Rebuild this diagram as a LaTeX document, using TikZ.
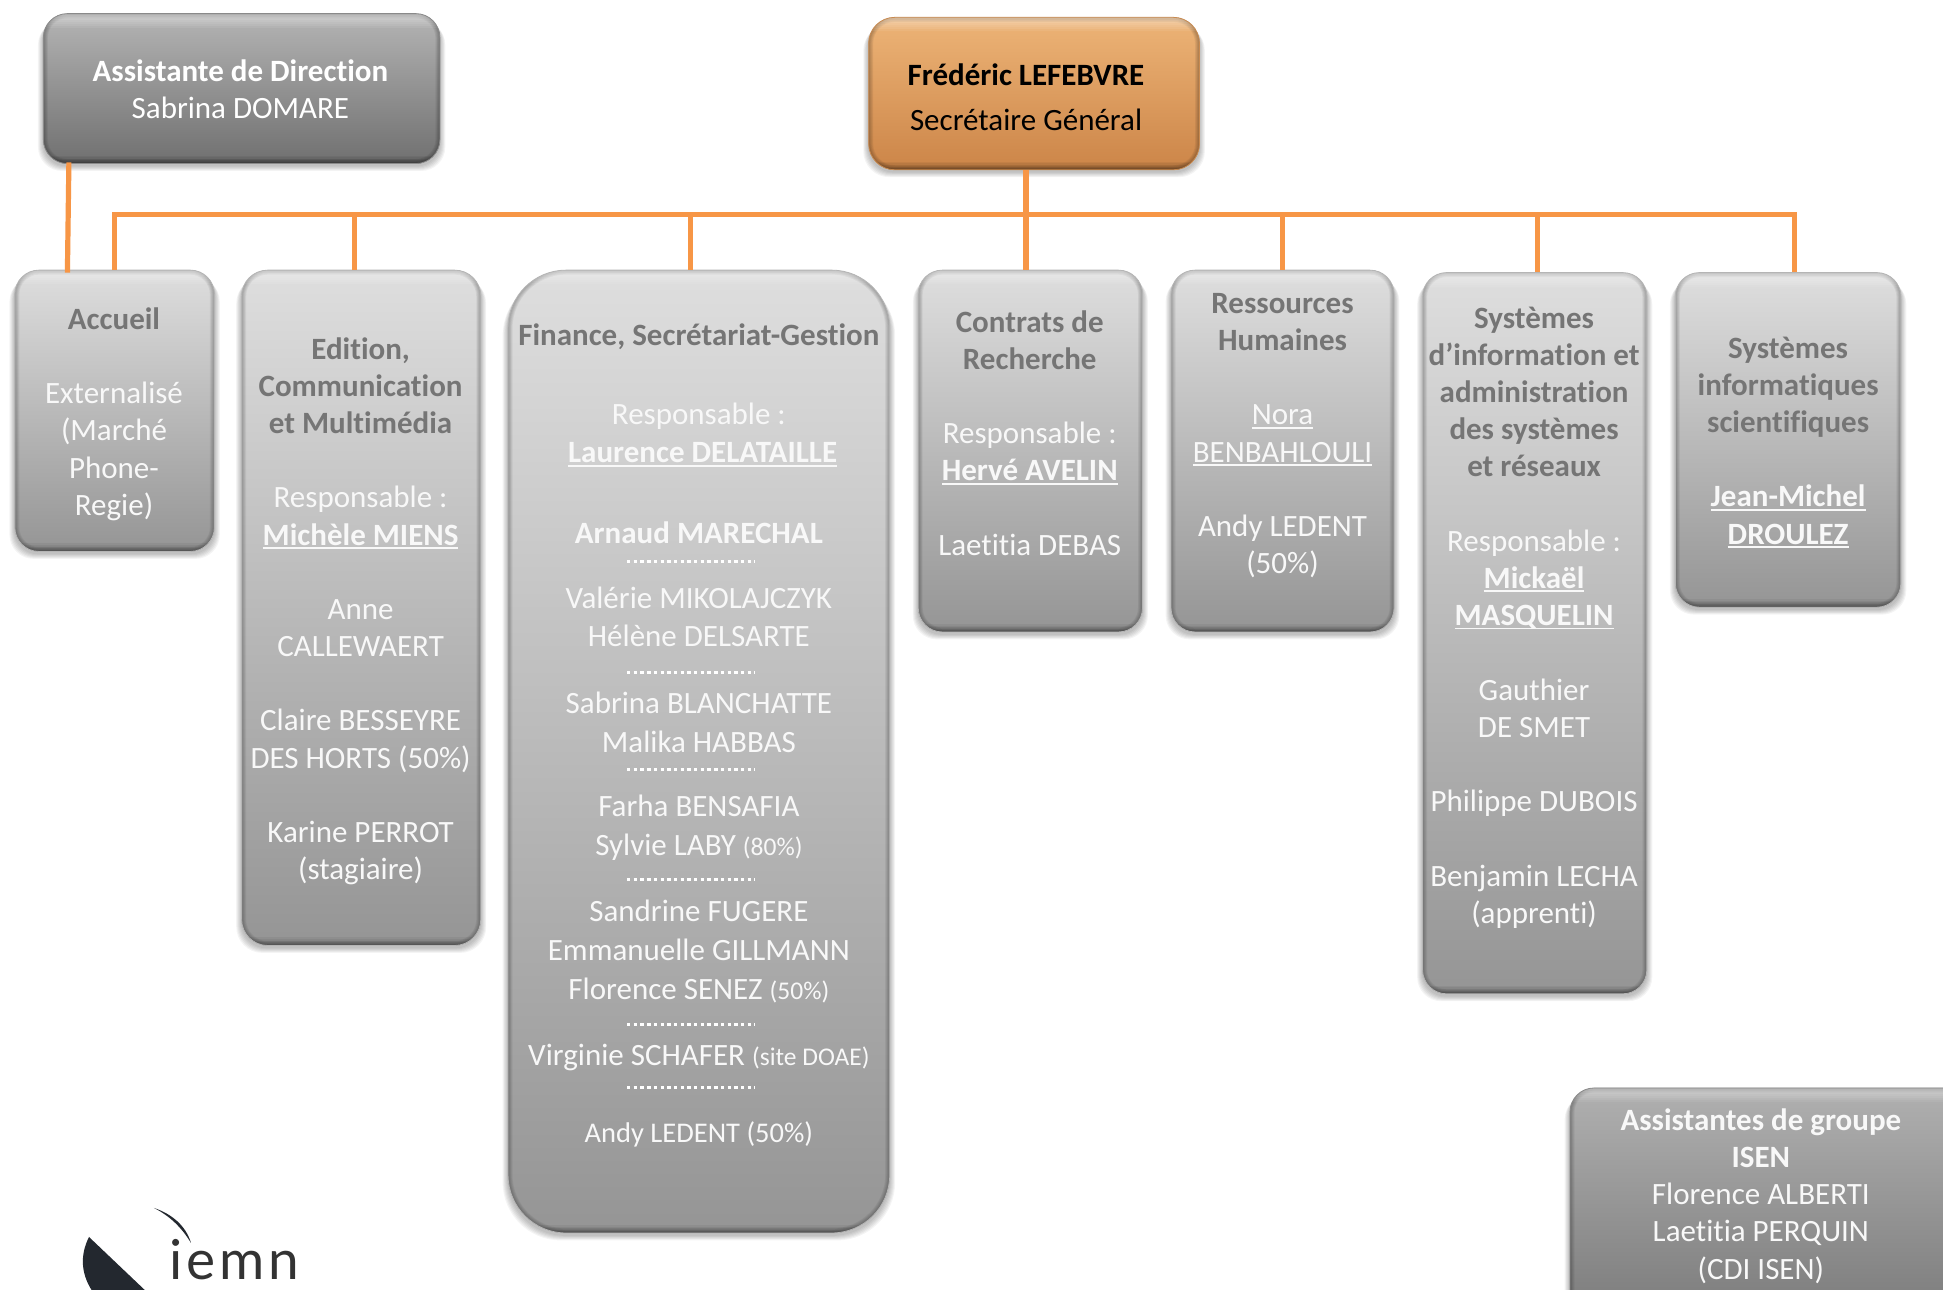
\documentclass[tikz,border=0pt]{standalone}
\usepackage{fontspec}
\setmainfont{Carlito}[Ligatures=NoCommon]
\newfontfamily\logofont[LetterSpace=7]{Lato}
\usetikzlibrary{fit}
\definecolor{conn}{HTML}{F79646}
\definecolor{tg}{HTML}{757575}
\definecolor{nameg}{HTML}{F8F8F8}
\definecolor{logod}{HTML}{23282F}
\definecolor{asstT}{HTML}{B4B4B4}
\definecolor{asstB}{HTML}{707070}
\definecolor{asstE}{HTML}{8A8A8A}
\definecolor{sgT}{HTML}{EDB477}
\definecolor{sgB}{HTML}{CC8548}
\definecolor{sgE}{HTML}{C88A50}
\definecolor{colT}{HTML}{DEDEDE}
\definecolor{colB}{HTML}{959595}
\definecolor{colE}{HTML}{B5B5B5}
\definecolor{isenT}{HTML}{B0B0B0}
\definecolor{isenB}{HTML}{787878}
\newcommand\Tt[1]{{\color{tg}\bfseries #1}}
\newcommand\Bb[1]{{\bfseries #1}}
\newcommand\ulname[1]{\setbox0\hbox{#1}\rlap{\rule[-3.8pt]{\wd0}{1.8pt}}\box0}
\newcommand\smalltxt[1]{{\fontsize{25.5}{37.2}\selectfont #1}}
% name, x1,y1,x2,y2, radius, top colour, bottom colour, edge colour
\newcommand\gbox[9]{%
  \foreach \i in {1,...,6}{
    \fill[black,opacity=.045,rounded corners=#6pt]
      ([xshift=-\i*0.9pt,yshift=-\i*0.9pt-2pt]#2,#3) rectangle ([xshift=\i*0.9pt,yshift=-\i*0.9pt-2pt]#4,#5);
  }
  \path[rounded corners=#6pt,top color=#7,bottom color=#8] (#2,#3) rectangle (#4,#5);
  \begin{scope}
    \clip[rounded corners=#6pt] (#2,#3) rectangle (#4,#5);
    \foreach \i in {1,...,5}{
      \draw[black,opacity=.055,line width=2*\i*0.9 pt,rounded corners=#6pt] (#2,#3) rectangle (#4,#5);
    }
    \foreach \i in {1,...,7}{
      \fill[white,opacity=.07] (#2,#3) rectangle ([yshift=-\i*2pt]#4,#3);
    }
    \foreach \i in {1,...,5}{
      \fill[black,opacity=.05] ([yshift=\i*1.6pt]#2,#5) rectangle (#4,#5);
    }
  \end{scope}
  \draw[#9,line width=.8pt,rounded corners=#6pt] (#2,#3) rectangle (#4,#5);
  \coordinate (#1a) at (#2,#3);
  \coordinate (#1b) at (#4,#5);
  \node[fit=(#1a)(#1b),inner sep=0pt] (#1) {};
}
\tikzset{
  txt/.style={anchor=north,align=center,inner sep=0pt,text=nameg,
    font=\fontsize{31}{37.2}\selectfont,execute at begin node=\strut},
  fline/.style={anchor=center,inner sep=0pt,text=nameg,font=\fontsize{31}{37.2}\selectfont},
  wire/.style={draw=conn,line width=5.2pt},
  dots/.style={draw=white,line width=3pt,dash pattern=on 3.4pt off 3.3pt},
}
\begin{document}
\begin{tikzpicture}[x=1.2392pt,y=-1.2392pt]
\useasboundingbox (0,0) rectangle (1568,1041);
\fill[white] (0,0) rectangle (1568,1041);
\clip (0,0) rectangle (1568,1041);

\gbox{asst}{35}{11}{355}{132}{24}{asstT}{asstB}{asstE}
\gbox{sg}{701}{14}{968}{137}{26}{sgT}{sgB}{sgE}
\gbox{acc}{12}{218}{173}{445}{24}{colT}{colB}{colE}
\gbox{edi}{195}{218}{388}{763}{26}{colT}{colB}{colE}
\gbox{fin}{410}{218}{718}{995}{58}{colT}{colB}{colE}
\gbox{con}{741}{218}{922}{510}{24}{colT}{colB}{colE}
\gbox{rh}{945}{218}{1125}{510}{24}{colT}{colB}{colE}
\gbox{si}{1148}{220}{1329}{802}{24}{colT}{colB}{colE}
\gbox{sis}{1352}{220}{1534}{490}{24}{colT}{colB}{colE}
\gbox{isen}{1267}{878}{1640}{1075}{24}{isenT}{isenB}{asstE}

% connectors
\coordinate (busL) at (92.5,173);
\coordinate (busR) at (1448,173);
\coordinate (busE) at (286,173);
\coordinate (busF) at (557,173);
\coordinate (busH) at (1035,173);
\coordinate (busS) at (1241,173);
\coordinate (asstStart) at (55.6,131);
\coordinate (asstEnd) at (54.4,220);
\coordinate (sgStart) at (828,137);
\draw[wire,line cap=rect] (busL) -- (busR);
\draw[wire] (busL) -- (busL |- acc.north);
\draw[wire] (busE) -- (busE |- edi.north);
\draw[wire] (busF) -- (busF |- fin.north);
\draw[wire] (sgStart) -- (sgStart |- con.north);
\draw[wire] (busH) -- (busH |- rh.north);
\draw[wire] (busS) -- (busS |- si.north);
\draw[wire] (busR) -- (busR |- sis.north);
\draw[wire] (asstStart) -- (asstEnd);

% texts
\node[fline,text=white] (t1) at (194,57) {\Bb{Assistante de Direction}};
\node[fline,text=white] (t2) at (194,87) {Sabrina DOMARE};
\node[fline,text=black] (t3) at (828,60) {\Bb{Frédéric LEFEBVRE}};
\node[fline,text=black] (t4) at (828,97) {Secrétaire Général};

\node[txt] (tacc) at (92,248) {\Tt{Accueil}\\[\baselineskip]Externalisé\\(Marché\\Phone-\\Regie)};
\node[txt] (tedi) at (291,272) {\Tt{Edition,}\\\Tt{Communication}\\\Tt{et Multimédia}\\[\baselineskip]Responsable :\\\ulname{\Bb{Michèle MIENS}}\\[\baselineskip]Anne\\CALLEWAERT\\[\baselineskip]Claire BESSEYRE\\DES HORTS (50\%)\\[\baselineskip]Karine PERROT\\(stagiaire)};
\node[txt] (tcon) at (831,250.3) {\Tt{Contrats de}\\\Tt{Recherche}\\[\baselineskip]Responsable :\\\ulname{\Bb{Hervé AVELIN}}\\[\baselineskip]Laetitia DEBAS};
\node[txt] (trh) at (1035,236.5) {\Tt{Ressources}\\\Tt{Humaines}\\[\baselineskip]\ulname{Nora}\\\ulname{BENBAHLOULI}\\[\baselineskip]Andy LEDENT\\(50\%)};
\node[txt] (tsi) at (1238,247.3) {\Tt{Systèmes}\\\Tt{d’information et}\\\Tt{administration}\\\Tt{des systèmes}\\\Tt{et réseaux}\\[\baselineskip]Responsable :\\\ulname{\Bb{Mickaël}}\\\ulname{\Bb{MASQUELIN}}\\[\baselineskip]Gauthier\\DE SMET\\[\baselineskip]Philippe DUBOIS\\[\baselineskip]Benjamin LECHA\\(apprenti)};
\node[txt] (tsis) at (1443,271.5) {\Tt{Systèmes}\\\Tt{informatiques}\\\Tt{scientifiques}\\[\baselineskip]\ulname{\Bb{Jean-Michel}}\\\ulname{\Bb{DROULEZ}}};
\node[txt] (tisen) at (1421,894.5) {\Bb{Assistantes de groupe}\\\Bb{ISEN}\\Florence ALBERTI\\Laetitia PERQUIN\\(CDI ISEN)};

\node[fline] (f1) at (564,272) {\Tt{Finance, Secrétariat-Gestion}};
\node[fline] (f2) at (564,336) {Responsable :};
\node[fline] (f3) at (567,367) {\ulname{\Bb{Laurence DELATAILLE}}};
\node[fline] (f4) at (564,430) {\Bb{Arnaud MARECHAL}};
\node[fline] (f5) at (564,482.5) {Valérie MIKOLAJCZYK};
\node[fline] (f6) at (564,513.5) {Hélène DELSARTE};
\node[fline] (f7) at (564,567) {Sabrina BLANCHATTE};
\node[fline] (f8) at (564,598.5) {Malika HABBAS};
\node[fline] (f9) at (564,650) {Farha BENSAFIA};
\node[fline] (f10) at (564,683.5) {Sylvie LABY \smalltxt{(80\%)}};
\node[fline] (f11) at (564,735) {Sandrine FUGERE};
\node[fline] (f12) at (564,766.5) {Emmanuelle GILLMANN};
\node[fline] (f13) at (564,799.5) {Florence SENEZ \smalltxt{(50\%)}};
\node[fline] (f14) at (564,853) {Virginie SCHAFER \smalltxt{(site DOAE)}};
\node[fline] (f15) at (564,915.5) {\fontsize{28.5}{37.2}\selectfont Andy LEDENT (50\%)};

\foreach \yy in {453,543,621,710,827,878}{
  \draw[dots] (506,\yy) -- (609,\yy);
}

% logo
\begin{scope}[x=1pt,y=-1pt]
\fill[logod] (89,1237) .. controls (80,1255) and (80,1275) .. (95,1295) -- (150,1295) -- cycle;
\fill[logod] (154,1208) .. controls (172,1214) and (186,1226) .. (191,1243) .. controls (182,1228) and (170,1216) .. (154,1208) -- cycle;
\node[anchor=base west,inner sep=0pt,text=black!80,font=\logofont\fontsize{55}{60}\selectfont] (logo) at (169,1280) {iemn};
\end{scope}
\end{tikzpicture}
\end{document}
